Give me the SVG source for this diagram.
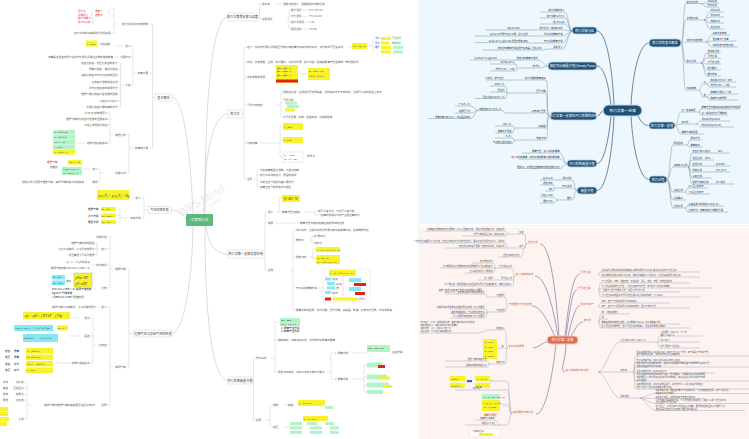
<svg xmlns="http://www.w3.org/2000/svg" width="749" height="439" viewBox="0 0 749 439">
<style>
text{font-family:"Noto Sans CJK SC","Noto Sans",sans-serif}
.t{font-size:2.6px;fill:#5a5a5a}
.te{font-size:2.6px;fill:#5a5a5a;text-anchor:end}
.tr{font-size:2.6px;fill:#d42a2a}
.td{font-size:2.6px;fill:#222}
.nt{font-size:3.1px;fill:#444;text-anchor:middle}
.nb{fill:#fff;stroke:#d8d8d8;stroke-width:0.6}
.lc{fill:none;stroke:#d2d2d2;stroke-width:0.8}
.lb{fill:none;stroke:#cfcfcf;stroke-width:0.5}
.y{fill:#f8f22a}
.cy{fill:#86e8f4}
.g{fill:#b3f3c8}
.rd{fill:#e2231c}
.f{font-size:2.6px;fill:#333;font-style:italic;font-family:"Liberation Serif",serif}
.fb{font-size:3.4px;fill:#333;font-style:italic;font-family:"Liberation Serif",serif}
.bc{fill:none;stroke:#4b6a85;stroke-width:0.8}
.bl{fill:none;stroke:#6f8ba2;stroke-width:0.45}
.bp{fill:#1f5278;stroke:#b9d3e6;stroke-width:0.8}
.bpt{font-size:3.2px;fill:#fff;text-anchor:middle}
.bt{font-size:2.3px;fill:#2a3a4a}
.bte{font-size:2.3px;fill:#2a3a4a;text-anchor:end}
.pc{fill:none;stroke:#7b7ba0;stroke-width:0.7}
.pl{fill:none;stroke:#9c9cb4;stroke-width:0.45}
.pn{font-size:2.6px;fill:#e0583e}
.pne{font-size:2.6px;fill:#e0583e;text-anchor:end}
.pt{font-size:2.1px;fill:#555}
.pte{font-size:2.1px;fill:#555;text-anchor:end}
</style>

<!-- backgrounds -->
<rect x="0" y="0" width="749" height="439" fill="#ffffff"/>
<rect x="420" y="0" width="329" height="224" fill="#eef7fd"/>
<rect x="420" y="228" width="329" height="211" fill="#fdf4f2"/>
<line x1="419" y1="0" x2="419" y2="439" stroke="#e2e2e2" stroke-width="0.6"/>
<line x1="420" y1="226" x2="749" y2="226" stroke="#e8e8e8" stroke-width="0.6"/>

<!-- watermark -->
<g id="watermark" transform="rotate(-30 200 205)" fill="#ececec">
<text x="178" y="206" font-family="Liberation Serif, serif" font-size="11">WPS Mind</text>
<text x="181" y="212" font-family="Noto Sans CJK SC, sans-serif" font-size="3.5">WPS思维导图 · 思维导图</text>
</g>

<!-- ================= LEFT MIND MAP ================= -->
<g id="connectors-left">
<path class="lc" d="M205,214 C205,80 214,17 228,17"/>
<path class="lc" d="M204,214 C204,150 214,114 228,114"/>
<path class="lc" d="M206,226 C208,242 214,254 228,254"/>
<path class="lc" d="M205,226 C205,330 214,380.5 228,380.5"/>
<path class="lc" d="M193,214 C190,140 182,97.5 172,97.5"/>
<path class="lc" d="M186,219 C180,212 176,210 171,210"/>
<path class="lc" d="M193,226 C192,290 182,333.5 172,333.5"/>
<!-- A -->
<path class="lb" d="M155,97.5 H152.5 M152.5,24 V148 M152.5,24 H149 M152.5,73 H149 M152.5,148 H149"/>
<path class="lb" d="M118,24 H114 M114,9 V33 M114,9 H111 M114,16 H111 M114,33 H111"/>
<path class="lb" d="M137,73 H133 M133,46 V85 M133,46 H131 M133,57 H131 M133,85 H131 M123,46 H116 M119,57 H114"/>
<path class="lb" d="M124.5,85 H120.5 M120.5,63 V107 M120.5,63 H118 M120.5,69.3 H118 M120.5,75.6 H118 M120.5,81.9 H118 M120.5,88.1 H118 M120.5,94.4 H118 M120.5,100.7 H118 M120.5,107 H118"/>
<path class="lb" d="M134,148 H129 M129,135 V173 M129,135 H126 M129,173 H126"/>
<path class="lb" d="M113,135 H110 M110,113 V143 M110,113 H108 M110,119 H108 M110,125 H108 M110,143 H108 M85,143 H76"/>
<path class="lb" d="M104,173 H100 M100,169 V182 M100,169 H98 M100,182 H98 M90,169 H83"/>
<!-- B -->
<path class="lb" d="M148,210 H144 M144,198 V218 M144,198 H141 M144,218 H141 M134,198 H130 M129,218 H120 M120,209 V222 M120,209 H117 M120,215.5 H117 M120,222 H117"/>
<!-- C -->
<path class="lb" d="M134,333.5 H129 M129,269 V367 M129,269 H126 M129,367 H126"/>
<path class="lb" d="M113,269 H110 M110,237 V288 M110,237 H107 M110,249 H107 M110,265 H107 M110,288 H107"/>
<path class="lb" d="M99,249 H97 M97,243 V255 M97,243 H95 M97,249 H95 M97,255 H95 M96,265 H91 M96,288 H93"/>
<path class="lb" d="M113,367 H110 M110,307 V405 M110,307 H107 M110,345 H107 M110,405 H107 M100,307 H97"/>
<path class="lb" d="M97,345 H93 M93,318 V363 M93,318 H90 M93,336 H90 M93,363 H90 M79,318 H71 M79,336 H69 M70,363 H54"/>
<path class="lb" d="M31,405 H27 M27,382 V419 M27,382 H24 M27,388 H24 M27,394 H24 M27,400 H24 M27,419 H24"/>
<!-- D -->
<path class="lb" d="M257,17 H259.5 M259.5,4 V19 M259.5,4 H262 M259.5,19 H262 M276,4 H282 M286,19 H289 M289,10 V29 M289,10 H291 M289,16.3 H291 M289,22.6 H291 M289,29 H291 M301,10 H308 M301,16.3 H308 M303,22.6 H308 M301,29 H308"/>
<!-- E -->
<path class="lb" d="M242,114 H244 M244,47 V179 M244,47 H247 M244,62 H247 M244,77 H247 M244,105 H247 M244,143 H247 M244,179 H247"/>
<path class="lb" d="M347,47 H352 M367,45.5 H373 M373,38 V52 M272,77 H276 M298,74 H308"/>
<path class="lb" d="M277,105 H281 M281,92 V117 M281,92 H283 M281,103 H283 M281,117 H283"/>
<path class="lb" d="M259,143 H280 M280,126 V157 M280,126 H283 M280,140 H283 M280,157 H283"/>
<path class="lb" d="M255,179 H257 M257,170 V187 M257,170 H259 M257,175 H259 M257,182 H259 M257,187 H259"/>
<!-- F -->
<path class="lb" d="M263,254 H265 M265,212 V270 M265,212 H267 M265,223 H267 M265,270 H267"/>
<path class="lb" d="M276,212 H279 M279,198 V212 M279,198 H282 M279,212 H282 M305,212 H315 M315,211 V215 M315,211 H318 M315,215 H318 M276,223 H299"/>
<path class="lb" d="M290,270 H293 M293,230 V310 M293,230 H296 M293,240 H296 M293,257 H296 M293,288 H296 M293,310 H296"/>
<path class="lb" d="M309,240 H312 M312,236 V243 M312,236 H314 M312,243 H314 M310,257 H313 M313,249 V259 M313,249 H316 M313,259 H316 M318,288 H323"/>
<!-- G -->
<path class="lb" d="M252,380.5 H253.5 M253.5,358 V420 M253.5,358 H256 M253.5,420 H256"/>
<path class="lb" d="M271,358 H275 M275,322 V372 M275,322 H280 M275,340 H278 M275,372 H278"/>
<path class="lb" d="M327,372 H331 M331,353 V379 M331,353 H334 M331,379 H334 M352,353 H367 M352,379 H364 M364,365 V392 M364,365 H367 M364,377 H367 M364,385 H367 M364,392 H367"/>
<path class="lb" d="M265,420 H270 M270,405 V427 M270,405 H273 M270,427 H273 M285,405 H298 M285,427 H303"/>
</g>

<g id="node-center-left">
<rect x="186" y="214" width="27" height="12" rx="1" fill="#5bb97b"/>
<text x="199.5" y="221.4" font-size="3.6" fill="#fff" text-anchor="middle">工程热力学</text>
</g>

<g id="node-basic-concepts">
<rect class="nb" x="155" y="94" width="17" height="7"/>
<text class="nt" x="163.5" y="98.6">基本概念</text>
<text class="te" x="148" y="24.8">热力学系统与状态参数</text>
<text class="tr" x="78" y="12.3">压力 p</text><text class="tr" x="95" y="12.3">温度 T</text>
<text class="tr" x="78" y="15.7">比体积 v</text><text class="tr" x="95" y="15.7">密度 ρ</text>
<text class="tr" x="78" y="19.3">热力学能 U</text>
<text class="tr" x="78" y="23.3">焓 H=U+pV</text>
<path class="lb" d="M91,10.5 H92 V16.5 H91 M108,10.5 H109 V16.5 H108 M92,18 H93 V24 H92"/>
<text class="te" x="110.5" y="33.8">热力学中的基本概念及单位换算</text>
<text class="te" x="148" y="73.8">热量计算</text>
<text class="te" x="130.5" y="46.8">定义</text>
<rect class="y" x="86" y="40.5" width="11" height="6"/>
<text class="f" x="87" y="44.5">c=δq/dT</text>
<text class="t" x="100" y="44.6">比热容的</text>
<text class="te" x="130.5" y="57.8">计算方法</text>
<text class="te" x="113" y="57.8">热量是在温差作用下系统与外界之间通过边界传递的能量</text>
<text class="te" x="130.5" y="85.8">分类</text>
<text class="te" x="117.5" y="63.8">定容比热容、定压比热容的定义</text>
<text class="te" x="117.5" y="70.1">质量比热容、体积比热容</text>
<text class="te" x="117.5" y="76.4">真实比热容与平均比热容的区别</text>
<text class="te" x="117.5" y="82.7">比热容与温度的关系式</text>
<text class="te" x="117.5" y="88.9">平均比热容表的使用方法</text>
<text class="te" x="117.5" y="95.2">理想气体比热容只是温度的函数</text>
<text class="te" x="117.5" y="101.5">比热比 κ=cp/cv</text>
<text class="te" x="117.5" y="107.8">利用比热容计算热量的方法</text>
<text class="te" x="148" y="148.8">热量的计算</text>
<text class="te" x="125.5" y="135.8">概念比较</text>
<text class="te" x="107.5" y="113.8">cv 与 cp 的物理意义</text>
<text class="te" x="107.5" y="119.8">理想气体的比热容与温度的函数关系</text>
<text class="te" x="107.5" y="125.8">工程上常用的比热容</text>
<text class="te" x="107.5" y="143.8">各种比热容的关系</text>
<rect class="g" x="53" y="130" width="22" height="4.6"/><text class="f" x="54" y="133.3">cp=(∂h/∂T)p</text>
<rect class="g" x="53" y="135" width="22" height="4.6"/><text class="f" x="54" y="138.3">cv=(∂u/∂T)v</text>
<rect class="g" x="53" y="140" width="22" height="4.6"/><text class="f" x="54" y="143.3">cp−cv=Rg</text>
<rect class="g" x="53" y="145" width="22" height="4.6"/><text class="f" x="54" y="148.3">κ=cp/cv</text>
<rect class="y" x="53" y="150" width="22" height="4.6"/><text class="f" x="54" y="153.3">cv=Rg/(κ−1)</text>
<text class="te" x="125.5" y="173.8">迈耶公式</text>
<text class="te" x="97.5" y="169.8">定义</text>
<rect class="y" x="68" y="160" width="14" height="4.6"/><text class="f" x="69" y="163.3">cp−cv=Rg</text>
<rect class="g" x="62" y="167" width="20" height="8"/><text class="f" x="63" y="170.3">Cp,m−Cv,m=R</text><text class="f" x="63" y="173.6">cp=κRg/(κ−1)</text>
<text class="tr" x="47" y="162.8">理想气体</text>
<text class="td" x="50" y="167.8">比热比</text>
<text class="te" x="97.5" y="182.8">概念</text>
<text class="te" x="84" y="182.8">迈耶公式只适用于理想气体，实际气体的差与状态有关</text>
</g>

<g id="node-gas-properties">
<rect class="nb" x="148" y="206.5" width="23" height="7"/>
<text class="nt" x="159.5" y="211.1">气体的热性质</text>
<text class="te" x="140.5" y="198.8">定义</text>
<rect class="y" x="97" y="190" width="32" height="10"/>
<text class="fb" x="98.5" y="196.5">p₁v₁/T₁ = p₂v₂/T₂ = Rg</text>
<text class="te" x="140.5" y="218.8">状态方程</text>
<rect class="y" x="101" y="207" width="15" height="4"/><text class="f" x="102" y="210">pv=RgT</text>
<rect class="y" x="101" y="213.5" width="15" height="4"/><text class="f" x="102" y="216.5">pV=mRgT</text>
<rect class="y" x="101" y="220" width="15" height="4"/><text class="f" x="102" y="223">pV=nRT</text>
<text class="td" x="88" y="210">理想气体</text>
<text class="td" x="88" y="216.5">范氏方程</text>
<text class="td" x="88" y="223">维里方程</text>
</g>

<g id="node-real-gas">
<rect class="nb" x="134" y="330" width="38" height="7"/>
<text class="nt" x="153" y="334.6" font-size="2.9">理想气体与实际气体的性质</text>
<text class="te" x="125.5" y="269.8">理想气体</text>
<text class="te" x="106.5" y="237.8">状态方程</text>
<text class="te" x="106.5" y="249.8">定义</text>
<text class="te" x="94.5" y="243.8">理想气体的微观模型</text>
<text class="te" x="94.5" y="249.8">分子不占体积，分子间无作用力</text>
<text class="te" x="94.5" y="255.8">低压高温下可视为理想</text>
<text class="te" x="106.5" y="265.8">摩尔体积</text>
<text class="te" x="90" y="262.8">p、v、T 之间的关系</text>
<text class="te" x="90" y="268.8">通用气体常数 R=8.314 J/(mol·K)</text>
<text class="te" x="106.5" y="288.8">比较</text>
<rect class="cy" x="52" y="275" width="13" height="4.5"/><text class="f" x="53" y="278.3">pv=RgT</text>
<rect class="cy" x="52" y="280.5" width="13" height="4.5"/><text class="f" x="53" y="283.8">pV=mRgT</text>
<text class="td" x="66" y="281.5">对比</text>
<rect class="y" x="74" y="273" width="18" height="14" stroke="#888" stroke-width="0.3"/>
<text class="fb" x="75.5" y="278.5">pVm=RT</text><text class="fb" x="75.5" y="284.5">pV=nRT</text>
<text class="td" x="52" y="290">R=8.314 J/(mol·K) 通用气体常数</text>
<text class="td" x="52" y="294">Rg=R/M 气体常数</text>
<text class="td" x="52" y="298">1 kmol=22.4 Nm³ 标准状况</text>
<text class="te" x="125.5" y="367.8">实际气体</text>
<text class="te" x="106.5" y="307.8">定义</text>
<text class="te" x="96" y="307.8">实际气体分子有体积，分子间有作用力</text>
<text class="te" x="106.5" y="345.8">比热容</text>
<text class="te" x="89.5" y="318.8">定值</text>
<rect class="y" x="23" y="312" width="47" height="7"/>
<text class="fb" x="25" y="317">cp = cp0 + ∫ RT dT + ∫ Tdp</text>
<text class="te" x="89.5" y="336.8">焓差</text>
<rect class="cy" x="14" y="325" width="39" height="6"/><text class="f" x="15.5" y="329.2">cp(T₂)−cp(T₁) = −∫ T(∂²v/∂T²)dp</text>
<rect class="y" x="57" y="325.5" width="11" height="5"/><text class="f" x="58" y="329">cp=cv</text>
<rect class="cy" x="23" y="334" width="35" height="8"/><text class="f" x="24.5" y="339">(∂cp/∂p)T = −T(∂²v/∂T²)p</text>
<text class="te" x="89.5" y="363.8">各种比热容关系</text>
<rect class="y" x="26" y="348" width="27" height="5.5"/><text class="f" x="27" y="351.8">cv=(∂u/∂T)v</text>
<rect class="y" x="26" y="354.5" width="27" height="5.5"/><text class="f" x="27" y="358.3">cp=(∂h/∂T)p</text>
<rect class="y" x="26" y="361" width="27" height="5.5"/><text class="f" x="27" y="364.8">cp−cv=T(∂p/∂T)v</text>
<rect class="y" x="26" y="367.5" width="27" height="5.5"/><text class="f" x="27" y="371.3">κ=cp/cv</text>
<text class="td" x="5" y="351.8">定容</text><text class="td" x="14" y="351.8">质量</text>
<text class="td" x="5" y="358.3">定压</text><text class="td" x="14" y="358.3">质量</text>
<text class="td" x="5" y="364.8">定容</text><text class="td" x="14" y="364.8">摩尔</text>
<text class="td" x="5" y="371.3">定压</text><text class="td" x="14" y="371.3">摩尔</text>
<text class="te" x="106.5" y="405.8">性质</text>
<text class="te" x="95" y="405.8">实际气体与理想气体的偏差用压缩因子Z表示</text>
<text class="te" x="23.5" y="382.8">对比态</text><text class="te" x="8" y="382.8">状态</text>
<text class="te" x="23.5" y="388.8">压缩因子</text><text class="te" x="8" y="388.8">偏差</text>
<text class="te" x="23.5" y="394.8">临界点</text><text class="te" x="8" y="394.8">参数</text>
<text class="te" x="23.5" y="400.8">对应态</text><text class="te" x="8" y="400.8">原理</text>
<text class="te" x="23.5" y="419.8">小结</text>
<rect class="y" x="0" y="407" width="8" height="4"/>
<rect class="y" x="0" y="412" width="8" height="4"/>
<rect class="y" x="0" y="417" width="9" height="4"/>
<rect class="y" x="0" y="422" width="7" height="4"/>
</g>

<g id="node-zeroth-law">
<rect class="nb" x="228" y="13" width="29" height="8"/>
<text class="nt" x="242.5" y="18" font-size="2.8">热力学第零定律与温度</text>
<text class="t" x="262" y="4.8">热平衡</text>
<text class="t" x="283" y="4.8">温度计的定义，温度是热平衡的标志</text>
<text class="t" x="262" y="19.8">经验温标</text>
<text class="t" x="291" y="10.8">摄氏温标</text><text class="t" x="309" y="10.8">t=T−273.15</text>
<text class="t" x="291" y="17.1">华氏温标</text><text class="t" x="309" y="17.1">°F=1.8t+32</text>
<text class="t" x="291" y="23.4">热力学温标</text><text class="t" x="309" y="23.4">T (K)</text>
<text class="t" x="291" y="29.8">国际温标</text><text class="t" x="309" y="29.8">ITS-90</text>
</g>

<g id="node-concepts-right">
<rect class="nb" x="228" y="110" width="14" height="8"/>
<text class="nt" x="235" y="115" font-size="2.8">热力学</text>
<text class="t" x="247" y="47.8">定义：系统与外界之间的相互作用只有热量交换和功的交换时，称为简单可压缩系统</text>
<rect class="y" x="352" y="43" width="15" height="6"/><text class="f" x="353" y="46.8">dU=δQ−δW</text>
<text x="375" y="39" font-size="2.2" fill="#3535c8">闭口</text><rect class="y" x="381" y="37" width="10" height="3"/><text x="392" y="39.4" font-size="2.2" fill="#2a9a5a">可逆过程</text>
<text x="375" y="43.5" font-size="2.2" fill="#3535c8">开口</text><rect class="y" x="381" y="41.5" width="8" height="3"/><text x="392" y="43.9" font-size="2.2" fill="#2a9a5a">稳定流动</text>
<text x="375" y="48" font-size="2.2" fill="#3535c8">循环</text><rect class="y" x="381" y="46" width="10" height="3"/><rect class="g" x="393" y="46" width="10" height="3"/>
<rect class="y" x="381" y="50.5" width="10" height="3"/><rect class="g" x="393" y="50.5" width="10" height="3"/>
<text class="t" x="247" y="62.8">特点：状态参数，过程，热力循环，系统与外界，热力学第一定律是能量守恒定律的一种特殊形式</text>
<text class="t" x="247" y="77.8">状态参数的性质</text>
<rect class="y" x="276" y="65" width="22" height="18"/>
<text class="f" x="277" y="68.5">∮dp=0  ∮dv=0</text><text class="f" x="277" y="72">∮dT=0  ∮du=0</text><text class="f" x="277" y="75.5">∮dh=0  ∮ds=0</text>
<rect class="rd" x="276" y="79.5" width="22" height="3"/>
<rect class="y" x="308" y="68" width="22" height="12"/>
<text class="f" x="309" y="72">dz=Mdx+Ndy</text><text class="f" x="309" y="76.5">∂M/∂y=∂N/∂x</text>
<text class="t" x="247" y="105.8">可逆与准静态</text>
<text class="t" x="283" y="92.8">准静态过程：过程进行得无限缓慢，系统始终处于平衡状态，过程可以在状态图上表示</text>
<text class="t" x="283" y="100.8">可逆过程</text>
<rect class="g" x="285" y="101.5" width="12" height="3"/><rect class="g" x="287" y="105" width="12" height="3"/>
<rect class="y" x="285" y="108.5" width="10" height="3"/>
<text class="t" x="283" y="117.8">不可逆因素：摩擦、温差传热、自由膨胀等</text>
<text class="t" x="247" y="143.8">功和热量</text>
<rect class="y" x="283" y="123" width="20" height="7"/><text class="f" x="284" y="127.5">w=∫pdv</text>
<rect class="y" x="283" y="137" width="20" height="6"/><text class="f" x="284" y="141">q=∫Tds</text>
<rect x="283" y="152" width="20" height="10" fill="#fff" stroke="#bbb" stroke-width="0.3"/>
<text class="f" x="284" y="156">wt=−∫vdp</text><text class="f" x="284" y="160">ws=wt−Δep</text>
<text class="t" x="307" y="157">技术功</text>
<text class="t" x="247" y="179.8">注意</text>
<text class="t" x="260" y="170.8">功和热量都是过程量，不是状态量</text>
<text class="t" x="260" y="175.8">热力学系统的划分，界面的选择</text>
<text class="t" x="260" y="182.8">功的正负号规定及其计算方法</text>
<text class="t" x="260" y="187.8">热量正负号的规定与功相反</text>
</g>

<g id="node-first-law-app">
<rect class="nb" x="228" y="250" width="35" height="8"/>
<text class="nt" x="245.5" y="255" font-size="2.8">热力学第一定律及其应用</text>
<text class="t" x="268" y="212.8">定义</text>
<rect class="y" x="282" y="195" width="18" height="7"/><text class="fb" x="283.5" y="199.8">Q=ΔU+W</text>
<text class="t" x="282" y="212.8">能量守恒与转换</text>
<text class="t" x="318" y="211.8">热可以变为功，功也可以变为热</text>
<text class="t" x="318" y="215.8">一定量的热消失时必产生相应量的功</text>
<text class="t" x="268" y="223.8">实质</text>
<text class="t" x="300" y="223.8">能量守恒与转换定律在热现象中的应用</text>
<text class="t" x="268" y="270.8">应用</text>
<text class="t" x="296" y="230.8">闭口系统：过程中系统与外界只有功和热量交换，没有物质交换</text>
<text class="t" x="296" y="240.8">推动功</text>
<text class="t" x="314" y="236.8">pv 推动功</text>
<text class="t" x="314" y="243.8">流动功</text>
<text class="t" x="296" y="257.8">稳定流动</text>
<rect class="y" x="316" y="247" width="24" height="5"/><text class="f" x="317" y="250.7">q=Δh+Δc²/2+gΔz+ws</text>
<rect class="y" x="316" y="255" width="24" height="9"/><text class="f" x="317" y="258.8">δq=dh+δwt</text><text class="f" x="317" y="262.5">wt=Δc²/2+gΔz+ws</text>
<text class="t" x="296" y="288.8">开口系统能量方程</text>
<rect x="323" y="269" width="47" height="33" fill="#fff" stroke="#e3c8c8" stroke-width="0.3"/>
<rect class="y" x="329" y="270" width="27" height="6"/><text class="f" x="330" y="274">q=Δh+Δc²/2+gΔz+ws</text>
<rect class="cy" x="325" y="277.5" width="6" height="3"/><text class="f" x="332" y="280">动能</text>
<rect class="cy" x="327" y="282" width="8" height="3"/><text class="f" x="336" y="284.5">位能</text>
<rect class="cy" x="327" y="286.5" width="8" height="3"/><text class="f" x="336" y="289">焓</text>
<rect class="cy" x="325" y="291" width="6" height="3"/><text class="f" x="332" y="293.5">轴功</text>
<rect class="cy" x="349" y="278" width="12" height="4"/>
<rect class="rd" x="354" y="283" width="12" height="3"/>
<rect class="cy" x="349" y="287" width="12" height="4"/>
<rect class="rd" x="355" y="292" width="10" height="3"/>
<rect class="rd" x="325" y="297.5" width="6" height="3"/>
<rect class="y" x="333" y="297.5" width="25" height="3"/>
<text x="359" y="299.8" font-size="2" fill="#d42a2a">技术功</text>
<line x1="343" y1="276" x2="343" y2="296" stroke="#e07a7a" stroke-width="0.3"/>
<text class="t" x="296" y="310.8">能量方程的应用：动力机械、压气机械、换热器、管道、喷管与扩压管、节流装置等</text>
</g>

<g id="node-open-system">
<rect class="nb" x="228" y="377" width="24" height="7"/>
<text class="nt" x="240" y="381.6" font-size="2.8">开口系统能量方程</text>
<text class="t" x="256" y="358.8">开口系统</text>
<rect class="g" x="280" y="318" width="20" height="8"/><text class="f" x="281" y="321.3">ṁin=ṁout</text><text class="f" x="281" y="324.6">dEcv=δQ−δW</text>
<text class="td" x="281" y="329.3" font-size="2">1) 质量守恒方程</text>
<text class="td" x="281" y="332.3" font-size="2">2) 能量守恒方程</text>
<text class="t" x="278" y="340.8">控制体积：流体进出系统，与外界交换质量与能量</text>
<text class="t" x="278" y="372.8">稳定流动条件：进出口状态不随时间变化</text>
<text class="t" x="335" y="353.8">1. 质量方程</text>
<rect class="g" x="367" y="345" width="23" height="7"/><text class="f" x="368" y="349.3">qm1=qm2=qm</text>
<text class="t" x="392" y="352.8">连续方程</text>
<text class="t" x="335" y="379.8">2. 能量方程</text>
<rect class="g" x="367" y="362.5" width="16" height="5"/><rect class="rd" x="378" y="365" width="7" height="3"/>
<rect class="g" x="367" y="374.5" width="20" height="5"/><rect class="y" x="380" y="376.5" width="10" height="3"/>
<rect class="g" x="367" y="382.5" width="22" height="5"/><rect class="y" x="383" y="385" width="9" height="3"/>
<rect class="g" x="367" y="390" width="16" height="4"/>
<text class="t" x="256" y="420.8">应用</text>
<text class="t" x="273" y="405.8">理想</text>
<text class="t" x="288" y="405.8">定容</text>
<rect class="y" x="298" y="400" width="27" height="6"/><text class="f" x="299" y="404">q=Δu=cvΔT</text>
<rect class="g" x="325" y="406" width="8" height="3"/>
<text class="t" x="273" y="427.8">定压</text>
<rect class="y" x="303" y="416" width="25" height="5"/><text class="f" x="304" y="419.8">q=Δh=cpΔT</text>
<rect class="g" x="290" y="422" width="12" height="3"/><rect class="g" x="307" y="422" width="10" height="3"/><rect class="g" x="325" y="422" width="9" height="3"/>
<rect class="g" x="290" y="426.5" width="12" height="3"/><rect class="g" x="310" y="426.5" width="12" height="3"/><rect class="g" x="330" y="426.5" width="9" height="3"/>
<rect class="g" x="290" y="431" width="12" height="3"/><rect class="g" x="310" y="431" width="12" height="3"/><rect class="g" x="330" y="431" width="9" height="3"/>
</g>

<!-- ================= TOP RIGHT: FIRST LAW ================= -->
<g id="connectors-first-law">
<path class="bc" d="M614,105 C612,60 605,31 597,31"/>
<path class="bc" d="M611,105 C608,80 603,66 597,66"/>
<path class="bc" d="M603,110.5 C600,112 600,116 597,116"/>
<path class="bc" d="M611,116 C608,145 603,163.5 597,163.5"/>
<path class="bc" d="M614,116 C612,160 605,190.5 597,190.5"/>
<path class="bc" d="M631,105 C633,70 640,43 649,43"/>
<path class="bc" d="M638,116 C641,122 644,125.5 649,125.5"/>
<path class="bc" d="M631,116 C633,150 640,179.5 649,179.5"/>
<!-- R1 -->
<path class="bl" d="M681,43 C684,43 683,3.5 686,3.5 H700 M681,43 C684,43 683,20 686,20 H704 M681,43 C684,43 683,42 686,42 H706 M681,43 C684,43 683,63 686,63 H701 M681,43 C684,43 683,90 686,90 H699"/>
<path class="bl" d="M700,3.5 C703,3.5 704,3 707,3 H719 M700,3.5 C703,3.5 704,7 707,7 H719"/>
<path class="bl" d="M704,20 C707,20 707,12 710,12 H724 M704,20 C707,20 707,17 710,17 H724 M704,20 C707,20 707,23 710,23 H724 M704,20 C707,20 707,29 710,29 H724"/>
<path class="bl" d="M706,42 C709,42 709,35 712,35 H730 M706,42 C709,42 709,41 712,41 H736 M706,42 C709,42 709,47 712,47 H738"/>
<path class="bl" d="M701,63 C704,63 704,53 707,53 H721 M701,63 C704,63 704,58 707,58 H721 M701,63 C704,63 704,64 707,64 H721 M701,63 C704,63 704,70 707,70 H721 M701,63 C704,63 704,76 707,76 H721"/>
<path class="bl" d="M699,90 C701,90 701,84 703,84 H707 M699,90 C701,90 701,97 703,97 H707"/>
<path class="bl" d="M707,84 C709,84 708,82 710,82 H736 M707,84 C709,84 708,87 710,87 H736 M707,97 C709,97 708,94 710,94 H738 M707,97 C709,97 708,100 710,100 H738"/>
<!-- R2 -->
<path class="bl" d="M675,125.5 C678,125.5 678,112 681,112 H699 M675,125.5 C678,125.5 678,124 681,124 H696 M675,125.5 C678,125.5 678,134 681,134 H704"/>
<path class="bl" d="M699,112 C701,112 699,109 701,109 H740 M699,112 C701,112 699,115 701,115 H728 M696,124 C699,124 698,121 701,121 H730 M696,124 C699,124 698,127 701,127 H734"/>
<!-- R3 -->
<path class="bl" d="M667,179.5 C670,179.5 670,145 673,145 H687 M667,179.5 C670,179.5 670,167 673,167 H688 M667,179.5 C670,179.5 670,192 673,192 H685 M667,179.5 C670,179.5 670,200 673,200 H686 M667,179.5 C670,179.5 670,208 673,208 H685"/>
<path class="bl" d="M687,145 C689,145 688,140 690,140 H702 M687,145 C689,145 688,147 690,147 H703"/>
<path class="bl" d="M688,167 C690,167 690,153 692,153 H730 M688,167 C690,167 690,160 692,160 H714 M688,167 C690,167 690,166 692,166 H730 M688,167 C690,167 690,172 692,172 H730 M688,167 C690,167 690,178 692,178 H712 M688,167 C690,167 690,184 692,184 H734"/>
<path class="bl" d="M685,192 C687,192 686,188 688,188 H708 M685,192 C687,192 686,194 688,194 H710 M685,208 C687,208 686,206 688,206 H724 M685,208 C687,208 686,212 688,212 H728"/>
<!-- L1 -->
<path class="bl" d="M572,31 C569,31 568,12 565,12 H540 M572,31 C569,31 568,18 565,18 H540 M572,31 C569,31 568,24 565,24 H540 M572,31 C569,31 566,30 563,30 H527 M572,31 C569,31 566,36 563,36 H530 M572,31 C569,31 566,43 563,43 H530 M572,31 C569,31 566,49 563,49 H548"/>
<path class="bl" d="M527,30 C524,30 523,30 520,30 H485 M530,36 C527,36 530,36 528,36 H475 M530,43 C527,43 530,42.6 528,42.6 H475 M548,49 C545,49 545,50 542,50 H483"/>
<!-- L2 -->
<path class="bl" d="M548,66 C545,66 542,60 538,60 H500 M548,66 C545,66 543,68 540,68 H518"/>
<path class="bl" d="M500,60 C498,60 499,60 497,60 H470 M518,68 C515,68 518,64 515,64 H490 M518,68 C515,68 518,71 515,71 H490"/>
<!-- L3 -->
<path class="bl" d="M550,116 C545,116 549,80 546,80 H510 M550,116 C545,116 549,93 546,93 H508 M550,116 C545,116 549,113 546,113 H505 M550,116 C545,116 549,128 546,128 H515 M550,116 C545,116 549,140 546,140 H515"/>
<path class="bl" d="M510,80 C507,80 507,80 504,80 H486 M508,93 C506,93 507,86 505,86 H490 M508,93 C506,93 507,92 505,92 H490 M508,93 C506,93 507,98.5 505,98.5 H475"/>
<path class="bl" d="M505,113 C503,113 504,110.5 502,110.5 H478 M478,110.5 C475,110.5 474,106 471,106 H455 M478,110.5 C475,110.5 474,113 471,113 H455 M478,110.5 C475,110.5 474,118.5 471,118.5 H428"/>
<path class="bl" d="M515,128 C513,128 514,126 512,126 H495 M515,128 C513,128 514,133 512,133 H495 M515,140 C513,140 514,138 512,138 H495 M515,140 C513,140 514,143.5 512,143.5 H495"/>
<!-- L4 -->
<path class="bl" d="M567,163.5 C564,163.5 563,153 560,153 H522 M567,163.5 C564,163.5 563,159 560,159 H518 M567,163.5 C564,163.5 563,168.5 560,168.5 H517"/>
<!-- L5 -->
<path class="bl" d="M577,190.5 C574,190.5 575,180 572,180 H558 M577,190.5 C574,190.5 575,188 572,188 H555 M577,190.5 C574,190.5 575,200 572,200 H558"/>
<path class="bl" d="M558,180 C556,180 555,180 553,180 H540 M555,188 C553,188 555,185 553,185 H540 M555,188 C553,188 555,191 553,191 H545 M558,200 C556,200 555,197 553,197 H540 M558,200 C556,200 555,203 553,203 H540"/>
</g>

<g id="node-first-law-center">
<rect x="603" y="105" width="39" height="11" rx="5.5" fill="#1e4e74" stroke="#c2dbee" stroke-width="1.2"/>
<text x="622.5" y="111.7" font-size="3.8" fill="#fff" text-anchor="middle">热力学第一定律</text>
</g>

<g id="node-r1">
<rect class="bp" x="649" y="39" width="32" height="8" rx="4"/>
<text class="bpt" x="665" y="44.1">热力学的基本概念</text>
<text class="bt" x="686.5" y="2.8">热力学系统</text>
<text class="bt" x="686.5" y="19.3">系统的分类</text>
<text class="bt" x="686.5" y="41.3">状态与状态参数</text>
<text class="bt" x="686.5" y="62.3">热力过程</text>
<text class="bt" x="686.5" y="89.3">功和热量</text>
<text class="bt" x="707.5" y="2.4">闭口系统</text><text class="bt" x="707.5" y="6.4">开口系统</text>
<text class="bt" x="710.5" y="11.3">闭口系统</text><text class="bt" x="710.5" y="16.3">开口系统</text><text class="bt" x="710.5" y="22.3">绝热系统</text><text class="bt" x="710.5" y="28.3">孤立系统</text>
<text class="bt" x="712.5" y="34.3">基本状态参数</text><text class="bt" x="712.5" y="40.3">强度量与广延量</text><text class="bt" x="712.5" y="46.3">平衡状态与稳定状态</text>
<text class="bt" x="707.5" y="52.3">准静态过程</text><text class="bt" x="707.5" y="57.3">可逆过程</text><text class="bt" x="707.5" y="63.3">不可逆过程</text><text class="bt" x="707.5" y="69.3">热力循环</text><text class="bt" x="707.5" y="75.3">循环效率</text>
<text class="bt" x="703.5" y="83.3">功</text><text class="bt" x="703.5" y="96.3">热</text>
<text class="bt" x="710.5" y="81.3">体积变化功  w=∫pdv</text><text class="bt" x="710.5" y="86.3">技术功  wt=−∫vdp</text>
<text class="bt" x="710.5" y="93.3">热量的计算  q=∫Tds</text><text class="bt" x="710.5" y="99.3">热量与功的异同</text>
</g>

<g id="node-r2">
<rect class="bp" x="649" y="122" width="26" height="7" rx="3.5"/>
<text class="bpt" x="662" y="126.6" font-size="2.9">热力学第一定律</text>
<text class="bt" x="681.5" y="111.3">第一定律实质</text>
<text class="bt" x="681.5" y="123.3">表达式</text>
<text class="bt" x="681.5" y="133.3">能量方程的应用</text>
<text class="bt" x="701.5" y="108.3">能量守恒与转换定律在热现象中的应用</text>
<text class="bt" x="701.5" y="114.3">第一类永动机不可能制成</text>
<text class="bt" x="701.5" y="120.3">闭口系统  q=Δu+w</text>
<text class="bt" x="701.5" y="126.3">开口系统  q=Δh+wt</text>
</g>

<g id="node-r3">
<rect class="bp" x="649" y="176" width="18" height="7" rx="3.5"/>
<text class="bpt" x="658" y="180.6" font-size="2.9">热力过程</text>
<text class="bt" x="673.5" y="144.3">研究目的</text>
<text class="bt" x="673.5" y="166.3">基本热力过程</text>
<text class="bt" x="673.5" y="191.3">多变过程</text>
<text class="bt" x="673.5" y="199.3">过程曲线</text>
<text class="bt" x="673.5" y="207.3">过程分析</text>
<text class="bt" x="690.5" y="139.3">研究方法</text><text class="bt" x="690.5" y="146.3">能量转换</text>
<text class="bt" x="692.5" y="152.3">定容过程(v=定值)</text><text class="bt" x="718" y="152.3">w=0</text>
<text class="bt" x="692.5" y="159.3">定压过程</text><text class="bt" x="705" y="159.3">wt=0</text>
<text class="bt" x="692.5" y="165.3">定温过程</text><text class="bt" x="716" y="165.3">q=w=wt</text>
<text class="bt" x="692.5" y="171.3">绝热过程</text><text class="bt" x="716" y="171.3">q=0, pv^κ</text>
<text class="bt" x="692.5" y="177.3">多变过程</text>
<text class="bt" x="692.5" y="183.3">理想气体的过程</text><text class="bt" x="716" y="183.3">pvⁿ=定值</text>
<text class="bt" x="688.5" y="187.3">p-v 图上的表示</text><text class="bt" x="688.5" y="193.3">T-s 图上的表示</text>
<text class="bt" x="688.5" y="205.3">多变指数 n 的确定  n=ln(p₂/p₁)</text>
<text class="bt" x="688.5" y="211.3">过程中功、热量和热力学能的计算</text>
</g>

<g id="node-l1">
<rect class="bp" x="572" y="27" width="25" height="7" rx="3.5"/>
<text class="bpt" x="584.5" y="31.6" font-size="2.9">热力学能与焓</text>
<text class="bte" x="564.5" y="11.3">热力学能的定义</text>
<text class="bte" x="564.5" y="17.3">热力学能 U=f(T,v)</text>
<text class="bte" x="564.5" y="23.3">焓 H=U+pV</text>
<text class="bte" x="562.5" y="29.3">热力学第一定律表达式</text>
<text class="bte" x="562.5" y="35.3">闭口系统能量方程</text>
<text class="bte" x="562.5" y="42.3">开口系统能量方程</text>
<text class="bte" x="562.5" y="48.3">焓的意义</text>
<text class="bte" x="519.5" y="29.3">δQ=dU+δW</text>
<text class="bte" x="527.5" y="35.3">Q=ΔU+W 适用于任何工质、任何过程</text>
<text class="bte" x="527.5" y="42">q=Δh+Δc²/2+gΔz+ws 适用于稳定流动</text>
<text class="bte" x="541.5" y="49.3">稳定流动能量方程应用于换热器、压缩机等</text>
</g>

<g id="node-l2">
<rect class="bp" x="548" y="62" width="49" height="8" rx="4"/>
<text class="bpt" x="572.5" y="67" font-size="2.9">稳定流动能量方程(Steady Flow)</text>
<text class="bte" x="537.5" y="59.3">稳定流动能量方程式</text>
<text class="bte" x="539.5" y="67.3">技术功</text>
<text class="bte" x="496.5" y="59.3">q=Δh+Δc²/2+gΔz+ws</text>
<text class="bte" x="514.5" y="63.3">wt=ws+Δc²/2</text>
<text class="bte" x="514.5" y="70.3">技术功 wt=−∫vdp</text>
</g>

<g id="node-l3">
<rect class="bp" x="550" y="112" width="47" height="8" rx="4"/>
<text class="bpt" x="573.5" y="117" font-size="2.9">热力学第一定律在开口系统的应用</text>
<text class="bte" x="545.5" y="79.3">动力机械的能量转换</text>
<text class="bte" x="545.5" y="92.3">压气机械</text>
<text class="bte" x="545.5" y="112.3">喷管和扩压管</text>
<text class="bte" x="545.5" y="127.3">换热器</text>
<text class="bte" x="545.5" y="139.3">绝热节流</text>
<text class="bte" x="503.5" y="79.3">汽轮机、燃气轮机</text>
<text class="bte" x="504.5" y="85.3">ws=h₁−h₂</text>
<text class="bte" x="504.5" y="91.3">压缩机</text>
<text class="bte" x="504.5" y="97.8">压缩机耗功 wc=h₂−h₁</text>
<text class="bte" x="501.5" y="109.8">动能增加 Δc²/2=h₁−h₂</text>
<text class="bte" x="470.5" y="105.3">c²=2(h₁−h₂)</text>
<text class="bte" x="470.5" y="112.3">临界压力比</text>
<text class="bte" x="470.5" y="117.8">质量流量 qm=Ac/v，与截面积有关</text>
<text class="bte" x="511.5" y="125.3">q=h₂−h₁</text>
<text class="bte" x="511.5" y="132.3">热量等于焓差</text>
<text class="bte" x="511.5" y="137.3">h₁=h₂</text>
<text class="bte" x="511.5" y="142.8">节流前后焓值相等</text>
</g>

<g id="node-l4">
<rect class="bp" x="567" y="160" width="30" height="7" rx="3.5"/>
<text class="bpt" x="582" y="164.6" font-size="2.9">开口系统能量方程</text>
<text class="bte" x="559.5" y="152.3">能量守恒：进入系统的能量</text>
<text class="bte" x="559.5" y="158.3">进入系统的能量－离开系统的能量＝储存能增量</text>
<text class="bte" x="559.5" y="167.8">推动功：工质进出控制体时所传递的功 pv</text>
</g>

<g id="node-l5">
<rect class="bp" x="577" y="187" width="20" height="7" rx="3.5"/>
<text class="bpt" x="587" y="191.6" font-size="2.9">能量方程</text>
<text class="bte" x="571.5" y="179.3">闭口系统</text>
<text class="bte" x="571.5" y="187.3">开口系统</text>
<text class="bte" x="571.5" y="199.3">循环</text>
<text class="bte" x="552.5" y="179.3">Q=ΔU+W</text>
<text class="bte" x="552.5" y="184.3">稳定流动</text>
<text class="bte" x="552.5" y="190.3">qm</text>
<text class="bte" x="552.5" y="196.3">∮δQ=∮δW</text>
<text class="bte" x="552.5" y="202.3">循环净功</text>
</g>

<!-- ================= BOTTOM RIGHT: SECOND LAW ================= -->
<g id="connectors-second-law">
<path class="pc" d="M559,336 C556,290 550,244 540,244"/>
<path class="pc" d="M558,336 C552,300 544,276 535,276"/>
<path class="pc" d="M555,337 C548,320 540,306 532,306"/>
<path class="pc" d="M548,341 C542,343 538,348 533,348"/>
<path class="pc" d="M556,344 C552,380 545,414 536,414"/>
<path class="pc" d="M565,336 C569,300 573,274 580,274"/>
<path class="pc" d="M566,336 C570,310 572,290 577,290"/>
<path class="pc" d="M568,336 C572,320 575,306 580,306"/>
<path class="pc" d="M571,336 C575,330 578,322 583,322"/>
<path class="pc" d="M566,344 C566,360 559,372 565,372"/>
<!-- left leaves -->
<path class="pl" d="M527,244 C524,244 527,234 524,234 H508 M527,244 C524,244 527,248 524,248 H508 M527,244 C524,244 523,257 520,257 H498"/>
<path class="pl" d="M508,234 C506,234 507,231 505,231 H425 M508,234 C506,234 507,236 505,236 H462 M508,248 C506,248 507,243 505,243 H420 M508,248 C506,248 507,248 505,248 H445"/>
<path class="pl" d="M515,276 C512,276 515,268 512,268 H496 M515,276 C512,276 515,280 512,280 H496 M515,276 C512,276 515,286 512,286 H500"/>
<path class="pl" d="M496,268 C494,268 495,263 493,263 H472 M496,268 C494,268 495,268 493,268 H440 M496,268 C494,268 495,273 493,273 H465 M496,280 C494,280 495,280 493,280 H478 M500,286 C498,286 499,286 497,286 H450"/>
<path class="pl" d="M508,306 C505,306 507,297 505,297 H488 M508,306 C505,306 507,312 505,312 H488"/>
<path class="pl" d="M488,297 C486,297 487,294 485,294 H445 M488,312 C486,312 487,309 485,309 H450 M488,312 C486,312 487,313.5 485,313.5 H450 M488,312 C486,312 487,318 485,318 H450"/>
<path class="pl" d="M508,348 C505,348 507,330 505,330 H490 M508,348 C505,348 506,348 504,348 H498 M508,348 C505,348 507,364 505,364 H490"/>
<path class="pl" d="M490,330 C487,330 481,333 478,333 H420 M498,348 H497 M490,364 C488,364 489,361 487,361 H445 M490,364 C488,364 489,367 487,367 H445"/>
<path class="pl" d="M512,414 C509,414 510,381 507,381 H490 M512,414 C509,414 510,390 507,390 H482 M512,414 C509,414 510,405 507,405 H502 M512,414 C509,414 510,425 507,425 H500"/>
<path class="pl" d="M490,381 H493 M482,390 H455 M500,425 C498,425 497,420 495,420 H475 M500,425 C498,425 497,425 495,425 H465"/>
<!-- right leaves -->
<path class="pl" d="M598,274 C600,274 599,272 601,272 H700 M598,274 C600,274 599,277 601,277 H700"/>
<path class="pl" d="M598,290 C600,290 599,283 601,283 H690 M598,290 C600,290 599,288 601,288 H712 M598,290 C600,290 599,292 601,292 H680 M598,290 C600,290 599,297 601,297 H700"/>
<path class="pl" d="M598,306 C600,306 599,303 601,303 H670 M598,306 C600,306 599,308 601,308 H690"/>
<path class="pl" d="M598,322 C600,322 599,314 601,314 H630 M598,322 C600,322 599,319 601,319 H608 M598,322 C600,322 599,324 601,324 H680 M598,322 C600,322 599,328 601,328 H690"/>
<path class="pl" d="M598,372 C605,372 612,342 620,342 H657 M598,372 C605,372 612,372 620,372 H633 M598,372 C605,372 612,398 620,398 H640"/>
<path class="pl" d="M657,342 C659,342 658,336 660,336 H703 M657,342 C659,342 658,342 660,342 H700 M657,342 C659,342 658,348 660,348 H700"/>
<path class="pl" d="M633,372 C635,372 634,356 636,356 H749 M633,372 C635,372 634,362 636,362 H700 M633,372 C635,372 634,367 636,367 H749 M633,372 C635,372 634,373 636,373 H715 M633,372 C635,372 634,381 636,381 H749 M633,372 C635,372 634,389 636,389 H749"/>
<path class="pl" d="M640,398 C643,398 651,393.5 655,393.5 H749 M640,398 C643,398 651,398.5 655,398.5 H705 M640,398 C643,398 651,403.5 655,403.5 H749 M640,398 C643,398 651,410.5 655,410.5 H745"/>
</g>

<g id="node-second-law-center">
<rect x="547" y="336" width="31" height="8" rx="4" fill="#e3694f" stroke="#f6c3b5" stroke-width="1"/>
<text x="562.5" y="341" font-size="3.1" fill="#fff" text-anchor="middle">热力学第二定律</text>
</g>

<g id="node-s1">
<text class="pn" x="527.5" y="243.3">自发过程</text>
<text class="pte" x="523.5" y="233.3">熵增</text>
<text class="pte" x="523.5" y="247.3">熵产</text>
<text class="pte" x="519.5" y="256.3">自发过程的方向性</text>
<text class="pte" x="504.5" y="230.3">热量由高温物体传向低温物体，功可以全部变为热，而热不能全部变为功，自由膨胀</text>
<text class="pte" x="504.5" y="235.3">不同气体的混合过程、燃烧过程等</text>
<text class="pte" x="504.5" y="242.3">一切自发过程都是不可逆过程，自发过程的反方向不能自发进行，要使它进行必须付出代价，即补偿</text>
<text class="pte" x="504.5" y="247.3">非自发过程的进行需要一定的补偿条件，补充条件</text>
</g>

<g id="node-s2">
<text class="pn" x="515.5" y="275.3">第二定律的表述</text>
<text class="pte" x="511.5" y="267.3">克劳修斯表述</text>
<text class="pte" x="511.5" y="279.3">开尔文表述</text>
<text class="pte" x="511.5" y="285.3">两种表述等价</text>
<text class="pte" x="492.5" y="262.3">热不能自发地</text>
<text class="pte" x="492.5" y="267.3">不可能把热从低温物体传到高温物体而不引起其他变化</text>
<text class="pte" x="492.5" y="272.3">第二类永动机不可能制成</text>
<text class="pte" x="492.5" y="279.3">单一热源</text>
<text class="pte" x="496.5" y="285.3">不可能从单一热源取热使之完全变为功而不产生其他影响</text>
</g>

<g id="node-s3">
<text class="pn" x="508.5" y="305.3">卡诺循环与卡诺定理</text>
<text class="pte" x="504.5" y="296.3">卡诺循环</text>
<text class="pte" x="504.5" y="311.3">卡诺定理</text>
<text class="pte" x="484.5" y="290.5">由两个定温过程和两个绝热过程组成的可逆循环，</text>
<text class="pte" x="484.5" y="293.4">ηc=1−T₂/T₁，热效率只取决于两热源的温度</text>
<text class="pte" x="484.5" y="308.3">在相同的高温热源和低温热源间工作的一切可逆循环</text>
<text class="pte" x="484.5" y="312.8">其热效率都相等，与工质的性质无关</text>
<text class="pte" x="484.5" y="317.3">不可逆循环的热效率小于可逆循环</text>
</g>

<g id="node-s4">
<text class="pn" x="508.5" y="347.3">熵与熵增原理</text>
<text class="pte" x="504.5" y="329.3">熵的定义</text>
<text class="pte" x="503.5" y="347.3">熵</text>
<text class="pte" x="504.5" y="363.3">熵的计算</text>
<text class="pt" x="420.5" y="322.5">ds=δq/T（可逆）熵是状态参数，其变化量只取决于初终态</text>
<text class="pt" x="420.5" y="325.5">熵的物理意义：熵是系统无序程度的量度</text>
<text class="pt" x="420.5" y="328.5">熵的单位：J/K，比熵 kJ/(kg·K)</text>
<text class="pt" x="420.5" y="331.8">孤立系统、不可逆过程的熵变计算</text>
<rect class="y" x="483" y="339" width="14" height="20"/>
<text class="f" x="484" y="343" font-size="2.2">Δs=cvln</text>
<text class="f" x="484" y="347.5" font-size="2.2">Δs=cpln</text>
<text class="f" x="484" y="352" font-size="2.2">Δs=cpln</text>
<text class="f" x="484" y="356.5" font-size="2.2">Δs=Rgln</text>
<text class="pte" x="486.5" y="360.3">理想气体的熵变计算</text>
<text class="pte" x="486.5" y="366.3">固体和液体的熵变计算</text>
</g>

<g id="node-s5">
<text class="pn" x="512.5" y="413.3">熵增原理与㶲分析</text>
<rect class="y" x="450" y="376" width="15" height="5"/><text class="f" x="451" y="379.8" font-size="2.2">Siso≥0</text>
<rect class="y" x="450" y="383" width="15" height="5"/><text class="f" x="451" y="386.8" font-size="2.2">dSiso≥0</text>
<rect x="467" y="380" width="5" height="2.2" fill="#3a5ad8"/>
<rect class="y" x="475" y="376" width="15" height="5"/><text class="f" x="476" y="379.8" font-size="2.2">ΔS=Sf+Sg</text>
<rect class="y" x="475" y="383" width="15" height="5"/><text class="f" x="476" y="386.8" font-size="2.2">Sg≥0</text>
<text class="pte" x="481.5" y="389.3">熵流 熵产</text>
<rect class="g" x="482" y="394" width="18" height="5"/><text class="f" x="483" y="397.7" font-size="2.2">Ex=(h−h₀)−T₀(s−s₀)</text>
<rect class="y" x="482" y="400" width="18" height="11"/>
<text class="f" x="483" y="403.5" font-size="2.2">Ex,Q=(1−T₀/T)Q</text>
<text class="f" x="483" y="407.5" font-size="2.2">An=T₀ΔSiso</text>
<text x="484" y="416" font-size="2.1" fill="#d42a2a">能量贬值原理</text>
<text class="pte" x="494.5" y="419.3">热量㶲与冷量㶲</text>
<text class="pte" x="494.5" y="424.3">㶲损失 I=T₀Sg</text>
<rect x="470" y="429" width="30" height="8" fill="#fff" stroke="#e0d0d0" stroke-width="0.3"/>
<text class="pt" x="471" y="432">一切实际过程</text>
<rect class="y" x="479" y="433" width="14" height="3"/>
</g>

<g id="node-s6">
<text class="pn" x="580.5" y="273.3">可逆过程</text>
<text class="pt" x="601.5" y="271.3">过程进行后能使系统和外界都恢复到原状态而不留下任何变化的过程称为可逆过程</text>
<text class="pt" x="601.5" y="276.3">无耗散的准静态过程是可逆过程，实际过程都是不可逆过程，可逆过程是理想化的过程</text>
</g>
<g id="node-s7">
<text class="pn" x="577.5" y="289.3">不可逆过程</text>
<text class="pt" x="601.5" y="282.3">不可逆因素：摩擦、温差传热、自由膨胀、混合、燃烧、电阻、非弹性变形等</text>
<text class="pt" x="601.5" y="287.3">不可逆过程的熵产大于零，可逆过程熵产等于零；熵产是不可逆程度的量度</text>
<text class="pt" x="603" y="291.3">内部不可逆与外部不可逆，完全可逆与内可逆</text>
<text class="pt" x="601.5" y="296.3">不可逆过程的㶲损失等于环境温度乘以孤立系统的熵增，I=T₀ΔSiso</text>
</g>
<g id="node-s8">
<text class="pn" x="580.5" y="305.3">熵流与熵产</text>
<text class="pt" x="601.5" y="302.3">熵流：由于与外界换热而引起的熵变化</text>
<text class="pt" x="601.5" y="307.3">熵产：由于不可逆因素而引起的熵的增加，恒大于或等于零</text>
</g>
<g id="node-s9">
<text class="pn" x="583.5" y="321.3">㶲分析</text>
<text class="pt" x="601.5" y="313.3">㶲：可转换的部分</text>
<text class="pt" x="601.5" y="318.3">㶲</text>
<text class="pt" x="601.5" y="323.3">能量由㶲和炕两部分组成，任何能量 E=Ex+An，炕不能转变为㶲</text>
<text class="pt" x="601.5" y="327.3">在可逆过程中㶲守恒，在不可逆过程中㶲减少，孤立系统的㶲只能减少</text>
</g>
<g id="node-s10">
<text class="pn" x="565.5" y="371.3">第二定律数学表达式</text>
<text class="pt" x="620.5" y="341.3">克劳修斯不等式 ∮δQ/T≤0</text>
<text class="pt" x="620.5" y="371.3">熵方程</text>
<text class="pt" x="620.5" y="397.3">熵的性质</text>
<text class="pt" x="660.5" y="332.8">可逆循环 ∮δQ/T=0，不可逆</text>
<text class="pt" x="660.5" y="335.6">循环 ∮δQ/T&lt;0</text>
<text class="pt" x="660.5" y="341.3">ds≥δq/T</text>
<text class="pt" x="660.5" y="347.3">等号适用于可逆过程</text>
<text class="pt" x="636.5" y="352.6">闭口系统熵方程：dS=δSf+δSg，熵流可正可负可为零，熵产总是大于或等于零</text>
<text class="pt" x="636.5" y="355.4">由于熵是状态参数，熵方程对于任何过程都成立</text>
<text class="pt" x="636.5" y="361.2">开口系统熵方程：dScv=δSf+δSg+Σsimi−Σsjmj</text>
<text class="pt" x="636.5" y="363.9">稳定流动开口系统的熵方程，进出口工质所携带的熵之差与熵流熵产之和等于零</text>
<text class="pt" x="636.5" y="366.6">包括换热器和节流阀等设备</text>
<text class="pt" x="636.5" y="372.3">孤立系统熵方程：dSiso=δSg≥0</text>
<text class="pt" x="636.5" y="375.4">孤立系统的熵只能增加或保持不变，绝不能减少，这就是孤立系统熵增原理</text>
<text class="pt" x="636.5" y="378">熵增原理可以作为判断过程进行方向的依据，熵达到最大值时系统处于平衡</text>
<text class="pt" x="636.5" y="380.6">条件和限度</text>
<text class="pt" x="636.5" y="385.4">熵增原理的应用：判断过程能否进行、进行的方向，以及过程进行的限度</text>
<text class="pt" x="636.5" y="388.2">用于计算不可逆过程中的做功能力损失</text>
<text class="pt" x="655.5" y="391">熵是状态参数，熵的变化量只与初终态有关，与过程的路径无关。对于可逆过程，</text>
<text class="pt" x="655.5" y="393.6">熵变的计算方法相同</text>
<text class="pt" x="655.5" y="397.8">熵具有可加性，系统的熵等于各部分熵之和</text>
<text class="pt" x="655.5" y="400.6">可逆绝热过程是定熵过程，不可逆绝热过程熵增大；熵变可以用可逆过程计算，</text>
<text class="pt" x="655.5" y="403.2">然后应用于不可逆过程</text>
<text class="pt" x="655.5" y="407.4">在T-s图上，可逆过程线下的面积表示热量，循环所包围的面积表示循环净功</text>
<text class="pt" x="655.5" y="410.1">温熵图是分析热力过程和热力循环的重要工具</text>
</g>
</svg>
